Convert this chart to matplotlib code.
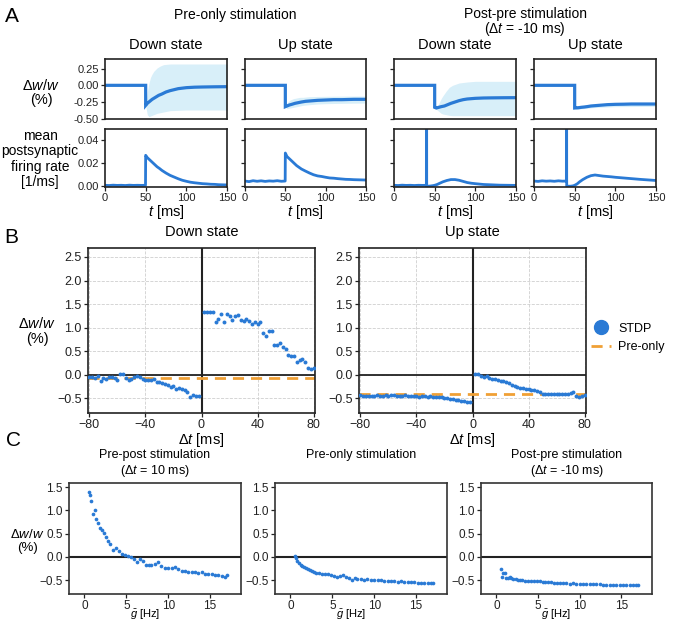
import matplotlib
matplotlib.use('Agg')
import matplotlib.pyplot as plt
from matplotlib.lines import Line2D

plt.rcParams['font.family'] = ['Liberation Sans', 'DejaVu Sans']
plt.rcParams['mathtext.fontset'] = 'custom'
plt.rcParams['mathtext.rm'] = 'Liberation Sans'
plt.rcParams['mathtext.it'] = 'Liberation Sans:italic'
plt.rcParams['mathtext.bf'] = 'Liberation Sans:bold'
plt.rcParams['axes.unicode_minus'] = True

BLUE = '#2a7ad5'
BAND = '#d8eff9'
ORANGE = '#f0a035'

# ---------------- Panel A data ----------------
t_w = [0, 50, 50, 52, 55, 58, 62, 66, 70, 75, 80, 85, 90, 100, 110, 120, 135, 150]
w_pre_down = [0, 0, -0.30, -0.27, -0.24, -0.21, -0.18, -0.15, -0.13, -0.10, -0.08, -0.065, -0.05, -0.035, -0.028, -0.025, -0.022, -0.02]
w_pre_up = [0, 0, -0.32, -0.31, -0.295, -0.285, -0.27, -0.26, -0.25, -0.24, -0.235, -0.23, -0.225, -0.22, -0.215, -0.215, -0.21, -0.21]
w_post_down = [0, 0, -0.33, -0.34, -0.33, -0.32, -0.31, -0.29, -0.27, -0.25, -0.23, -0.215, -0.205, -0.195, -0.19, -0.188, -0.186, -0.185]
w_post_up = [0, 0, -0.34, -0.338, -0.335, -0.33, -0.325, -0.318, -0.31, -0.305, -0.30, -0.295, -0.29, -0.285, -0.283, -0.28, -0.28, -0.28]

t_band = [50, 52, 54, 56, 58, 60, 64, 68, 72, 80, 90, 100, 120, 150]
pre_down_hi = [-0.30, -0.10, 0.03, 0.12, 0.17, 0.21, 0.26, 0.29, 0.31, 0.32, 0.32, 0.32, 0.32, 0.32]
pre_down_lo = [-0.30, -0.44, -0.47, -0.46, -0.45, -0.44, -0.42, -0.41, -0.40, -0.38, -0.375, -0.37, -0.37, -0.37]
pre_up_hi = [-0.32, -0.27, -0.24, -0.22, -0.21, -0.20, -0.19, -0.18, -0.18, -0.17, -0.167, -0.165, -0.162, -0.16]
pre_up_lo = [-0.32, -0.35, -0.345, -0.34, -0.335, -0.33, -0.32, -0.31, -0.30, -0.29, -0.28, -0.275, -0.27, -0.265]
post_down_hi = [-0.33, -0.33, -0.30, -0.25, -0.20, -0.16, -0.09, -0.03, 0.0, 0.035, 0.05, 0.06, 0.06, 0.06]
post_down_lo = [-0.33, -0.36, -0.38, -0.40, -0.42, -0.43, -0.44, -0.45, -0.455, -0.455, -0.455, -0.455, -0.455, -0.455]
post_up_hi = [-0.34, -0.32, -0.31, -0.305, -0.30, -0.30, -0.295, -0.29, -0.285, -0.28, -0.272, -0.265, -0.262, -0.26]
post_up_lo = [-0.34, -0.36, -0.36, -0.355, -0.35, -0.35, -0.345, -0.34, -0.335, -0.33, -0.325, -0.32, -0.318, -0.315]

t_rate_pre = [0, 5, 10, 15, 20, 25, 30, 35, 40, 45, 49.8, 50, 52, 55, 58, 61, 64, 67, 70, 75, 80, 85,
              90, 95, 100, 105, 110, 115, 120, 125, 130, 135, 140, 145, 150]
rate_pre_down = [0.0008, 0.0006, 0.0009, 0.0007, 0.0008, 0.0006, 0.0009, 0.0007, 0.0008, 0.0007, 0.0008,
                 0.027, 0.025, 0.023, 0.021, 0.019, 0.017, 0.0155, 0.0138, 0.0115, 0.0095, 0.008, 0.0065,
                 0.0052, 0.0043, 0.0035, 0.003, 0.0026, 0.0022, 0.002, 0.0017, 0.0016, 0.0013, 0.0012, 0.0011]
rate_pre_up = [0.0045, 0.0040, 0.0048, 0.0043, 0.0047, 0.0042, 0.0046, 0.0044, 0.0048, 0.0043, 0.0045,
               0.029, 0.026, 0.024, 0.022, 0.020, 0.018, 0.0165, 0.015, 0.0132, 0.0115, 0.010, 0.009,
               0.0085, 0.0078, 0.0072, 0.007, 0.0066, 0.0063, 0.006, 0.0059, 0.0057, 0.0056, 0.0055, 0.0054]

t_rate_post = [0, 5, 10, 15, 20, 25, 30, 35, 39.8, 40, 40.2, 42, 45, 48, 50, 53, 56, 60, 65, 70, 75, 80,
               85, 90, 95, 100, 110, 120, 130, 140, 150]
rate_post_down = [0.0008, 0.0006, 0.0009, 0.0007, 0.0008, 0.0006, 0.0008, 0.0007, 0.0008, 0.2, 0.0,
                  0.0, 0.0002, 0.0005, 0.0008, 0.0015, 0.0025, 0.0038, 0.005, 0.0058, 0.0058, 0.0052,
                  0.0042, 0.0032, 0.0026, 0.0022, 0.0015, 0.0012, 0.0009, 0.0008, 0.0007]
rate_post_up = [0.0045, 0.0042, 0.0047, 0.0044, 0.0046, 0.0043, 0.0047, 0.0044, 0.0045, 0.2, 0.0,
                0.0, 0.0, 0.0003, 0.0008, 0.002, 0.0038, 0.0058, 0.0078, 0.0092, 0.0098, 0.0093,
                0.0088, 0.0085, 0.0082, 0.0078, 0.0072, 0.0066, 0.006, 0.0055, 0.005]

a_wticks = [-0.50, -0.25, 0.00, 0.25]
a_wticklabels = ['-0.50', '-0.25', '0.00', '0.25']
a_rticks = [0.00, 0.02, 0.04]
a_rticklabels = ['0.00', '0.02', '0.04']
a_tticks = [0, 50, 100, 150]

# ---------------- Panel B data ----------------
dt_neg = [-80, -78, -76, -74, -72, -70, -68, -66, -64, -62, -60, -58, -56, -54, -52, -50, -48, -46, -44, -42,
          -40, -38, -36, -34, -32, -30, -28, -26, -24, -22, -20, -18, -16, -14, -12, -10, -8, -6, -4, -2]
dt_pos = [2, 4, 6, 8, 10, 12, 14, 16, 18, 20, 22, 24, 26, 28, 30, 32, 34, 36, 38, 40,
          42, 44, 46, 48, 50, 52, 54, 56, 58, 60, 62, 64, 66, 68, 70, 72, 74, 76, 78, 80]
down_neg = [-0.04, -0.05, -0.06, -0.03, -0.13, -0.06, -0.09, -0.05, -0.04, -0.06, -0.11, 0.02, 0.01, -0.06,
            -0.10, -0.08, -0.04, -0.03, -0.04, -0.09, -0.10, -0.11, -0.12, -0.08, -0.16, -0.16, -0.17, -0.19,
            -0.22, -0.25, -0.23, -0.30, -0.27, -0.30, -0.33, -0.36, -0.46, -0.42, -0.45, -0.44]
down_pos = [1.34, 1.34, 1.34, 1.34, 1.12, 1.18, 1.30, 1.11, 1.30, 1.25, 1.16, 1.25, 1.27, 1.16, 1.15, 1.18,
            1.15, 1.08, 1.13, 1.07, 1.13, 0.89, 0.82, 0.92, 0.92, 0.63, 0.63, 0.67, 0.58, 0.55, 0.42, 0.39,
            0.39, 0.28, 0.32, 0.34, 0.28, 0.15, 0.13, 0.14]
up_neg = [-0.43, -0.44, -0.45, -0.44, -0.45, -0.44, -0.43, -0.44, -0.45, -0.43, -0.44, -0.43, -0.43, -0.44,
          -0.44, -0.45, -0.43, -0.44, -0.45, -0.44, -0.45, -0.46, -0.45, -0.44, -0.46, -0.45, -0.46, -0.47,
          -0.48, -0.47, -0.49, -0.50, -0.51, -0.52, -0.53, -0.54, -0.55, -0.56, -0.57, -0.58]
up_pos = [0.01, 0.01, -0.02, -0.05, -0.02, -0.06, -0.08, -0.09, -0.11, -0.13, -0.14, -0.16, -0.18, -0.21,
          -0.24, -0.25, -0.27, -0.28, -0.30, -0.30, -0.32, -0.33, -0.35, -0.36, -0.40, -0.40, -0.40, -0.40,
          -0.40, -0.40, -0.41, -0.40, -0.40, -0.40, -0.39, -0.37, -0.45, -0.46, -0.45, -0.42]
preonly_down = -0.07
preonly_up = -0.40
b_xticks = [-80, -40, 0, 40, 80]
b_yticks = [-0.5, 0.0, 0.5, 1.0, 1.5, 2.0, 2.5]

# ---------------- Panel C data ----------------
g_rate = [0.5, 0.65, 0.8, 1.0, 1.2, 1.4, 1.6, 1.8, 2.05, 2.3, 2.6, 2.85, 3.1, 3.45, 3.8, 4.15, 4.5, 4.85,
          5.2, 5.55, 5.9, 6.25, 6.6, 6.95, 7.3, 7.65, 8.0, 8.4, 8.8, 9.2, 9.6, 10.0, 10.4, 10.8, 11.2, 11.6,
          12.0, 12.4, 12.8, 13.2, 13.6, 14.0, 14.4, 14.8, 15.2, 15.6, 16.0, 16.4, 16.8, 17.0]
c_prepost = [1.40, 1.33, 1.20, 0.92, 1.00, 0.82, 0.72, 0.62, 0.58, 0.52, 0.42, 0.35, 0.27, 0.14, 0.20, 0.12,
             0.06, 0.03, 0.01, 0.0, -0.04, -0.12, -0.05, -0.09, -0.18, -0.18, -0.17, -0.15, -0.12, -0.20,
             -0.23, -0.24, -0.23, -0.21, -0.27, -0.30, -0.31, -0.32, -0.33, -0.33, -0.34, -0.33, -0.36,
             -0.37, -0.38, -0.39, -0.39, -0.41, -0.43, -0.39]
c_preonly = [0.02, -0.03, -0.08, -0.14, -0.17, -0.20, -0.22, -0.24, -0.26, -0.28, -0.30, -0.32, -0.34, -0.35,
             -0.36, -0.38, -0.37, -0.40, -0.42, -0.43, -0.41, -0.40, -0.43, -0.46, -0.49, -0.46, -0.47, -0.47,
             -0.49, -0.48, -0.49, -0.50, -0.49, -0.50, -0.51, -0.52, -0.52, -0.53, -0.54, -0.53, -0.54, -0.54,
             -0.55, -0.55, -0.56, -0.57, -0.56, -0.57, -0.57, -0.57]
c_postpre = [-0.26, -0.44, -0.34, -0.35, -0.45, -0.46, -0.44, -0.46, -0.47, -0.48, -0.49, -0.49, -0.50, -0.51,
             -0.52, -0.52, -0.53, -0.53, -0.53, -0.54, -0.55, -0.54, -0.55, -0.56, -0.56, -0.56, -0.57, -0.57,
             -0.58, -0.57, -0.58, -0.58, -0.58, -0.58, -0.59, -0.59, -0.59, -0.59, -0.60, -0.60, -0.60, -0.60,
             -0.60, -0.60, -0.61, -0.60, -0.61, -0.61, -0.61, -0.61]
c_xticks = [0, 5, 10, 15]
c_yticks = [-0.5, 0.0, 0.5, 1.0, 1.5]

# ---------------- Figure ----------------
W, H = 675, 621
fig = plt.figure(figsize=(6.75, 6.21), dpi=100)


def box(x0, y0, x1, y1):
    return fig.add_axes([x0 / W, 1 - y1 / H, (x1 - x0) / W, (y1 - y0) / H])


def ftext(x, y, s, **kw):
    kw.setdefault('ha', 'center')
    kw.setdefault('va', 'center')
    fig.text(x / W, 1 - y / H, s, **kw)


def style(ax, lw=1.2, color='#222222', size=8):
    for sp in ax.spines.values():
        sp.set_linewidth(lw)
        sp.set_color(color)
    ax.tick_params(length=3, width=0.9, labelsize=size, pad=1.5, colors='#222222')


WLBL = r'$\mathit{\Delta w/w}$'

# ---- Panel A ----
a_cols = [(105, 227), (245, 366), (394, 516), (534, 656)]
a_state = ['Down state', 'Up state', 'Down state', 'Up state']
w_series = [w_pre_down, w_pre_up, w_post_down, w_post_up]
bands = [(pre_down_lo, pre_down_hi), (pre_up_lo, pre_up_hi), (post_down_lo, post_down_hi), (post_up_lo, post_up_hi)]
r_series = [(t_rate_pre, rate_pre_down), (t_rate_pre, rate_pre_up), (t_rate_post, rate_post_down), (t_rate_post, rate_post_up)]

for i, (x0, x1) in enumerate(a_cols):
    axw = box(x0, 59, x1, 119)
    lo, hi = bands[i]
    axw.fill_between(t_band, lo, hi, color=BAND, lw=0)
    axw.plot(t_w, w_series[i], color=BLUE, lw=2.3, solid_joinstyle='miter')
    axw.set_xlim(0, 150)
    axw.set_ylim(-0.505, 0.395)
    axw.set_yticks(a_wticks)
    axw.set_xticks(a_tticks)
    axw.tick_params(labelbottom=False, bottom=False)
    style(axw, size=8)
    axw.set_yticklabels(a_wticklabels if i == 0 else [])

    axr = box(x0, 129, x1, 187)
    tr, rr = r_series[i]
    axr.plot(tr, rr, color=BLUE, lw=2.0)
    axr.set_xlim(0, 150)
    axr.set_ylim(-0.0007, 0.05)
    axr.set_yticks(a_rticks)
    axr.set_xticks(a_tticks)
    style(axr, size=8)
    axr.set_yticklabels(a_rticklabels if i == 0 else [])
    ftext((x0 + x1) / 2, 212, r'$t$ [ms]', fontsize=10.5)
    ftext((x0 + x1) / 2, 45, a_state[i], fontsize=10.5)

ftext(12, 16, 'A', fontsize=15)
ftext(235.5, 15, 'Pre-only stimulation', fontsize=10)
ftext(525, 14, 'Post-pre stimulation', fontsize=10)
ftext(525, 29, r'($\mathit{\Delta t}$ = -10 ms)', fontsize=10)
ftext(41, 86, WLBL, fontsize=10.5)
ftext(41, 100, '(%)', fontsize=10.5)
ftext(40, 159, 'mean\npostsynaptic\nfiring rate\n[1/ms]', fontsize=10, linespacing=1.1)

# ---- Panel B ----
b_cols = [(88, 315), (359, 586)]
b_data = [(down_neg, down_pos, preonly_down, 'Down state'), (up_neg, up_pos, preonly_up, 'Up state')]
for i, (x0, x1) in enumerate(b_cols):
    ax = box(x0, 248, x1, 413)
    neg, pos, pre, title = b_data[i]
    ax.grid(True, ls='--', color='#cfcfcf', lw=0.6)
    ax.set_axisbelow(True)
    ax.axhline(0, color='#222222', lw=1.3, zorder=1)
    ax.axvline(0, color='#222222', lw=1.5, zorder=1)
    ax.axhline(pre, color=ORANGE, lw=2.0, dashes=(4, 2.5), zorder=2)
    ax.scatter(dt_neg, neg, s=8, color=BLUE, lw=0, zorder=3)
    ax.scatter(dt_pos, pos, s=8, color=BLUE, lw=0, zorder=3)
    ax.set_xlim(-81, 81)
    ax.set_ylim(-0.81, 2.69)
    ax.set_xticks(b_xticks)
    ax.set_yticks(b_yticks)
    style(ax, size=9)
    ftext((x0 + x1) / 2, 232, title, fontsize=10.5)
    ftext((x0 + x1) / 2, 440, r'$\mathit{\Delta t}$ [ms]', fontsize=10.5)

handles = [Line2D([], [], marker='o', ls='', color=BLUE, markersize=10),
           Line2D([], [], ls='--', color=ORANGE, lw=2.0, dashes=(4, 2.5))]
fig.legend(handles, ['STDP', 'Pre-only'], loc='center left', bbox_to_anchor=(588 / W, 1 - 338 / H),
           frameon=False, fontsize=9, handlelength=1.6, handletextpad=0.6, labelspacing=0.55,
           borderaxespad=0, borderpad=0.2)

ftext(11, 238, 'B', fontsize=15)
ftext(37, 324, WLBL, fontsize=10.5)
ftext(37, 339, '(%)', fontsize=10.5)

# ---- Panel C ----
c_cols = [(69, 241), (275, 447), (481, 652)]
c_data = [c_prepost, c_preonly, c_postpre]
c_title1 = ['Pre-post stimulation', 'Pre-only stimulation', 'Post-pre stimulation']
c_title2 = [r'($\mathit{\Delta t}$ = 10 ms)', None, r'($\mathit{\Delta t}$ = -10 ms)']
for i, (x0, x1) in enumerate(c_cols):
    ax = box(x0, 483, x1, 594)
    ax.axhline(0, color='#222222', lw=1.5, zorder=1)
    ax.scatter(g_rate, c_data[i], s=7, color=BLUE, lw=0, zorder=3)
    ax.set_xlim(-1.85, 18.7)
    ax.set_ylim(-0.8, 1.59)
    ax.set_xticks(c_xticks)
    ax.set_yticks(c_yticks)
    style(ax, color='#333333', size=8.5)
    ax.tick_params(axis='x', pad=1)
    ftext((x0 + x1) / 2, 455, c_title1[i], fontsize=9)
    if c_title2[i]:
        ftext((x0 + x1) / 2, 471, c_title2[i], fontsize=9)
    ftext((x0 + x1) / 2 - 10, 615, r'$\bar{g}$ [Hz]', fontsize=8)

ftext(13, 440, 'C', fontsize=15)
ftext(27, 534, WLBL, fontsize=9.5)
ftext(28, 548, '(%)', fontsize=9.5)

fig.savefig('out.png', dpi=100)
